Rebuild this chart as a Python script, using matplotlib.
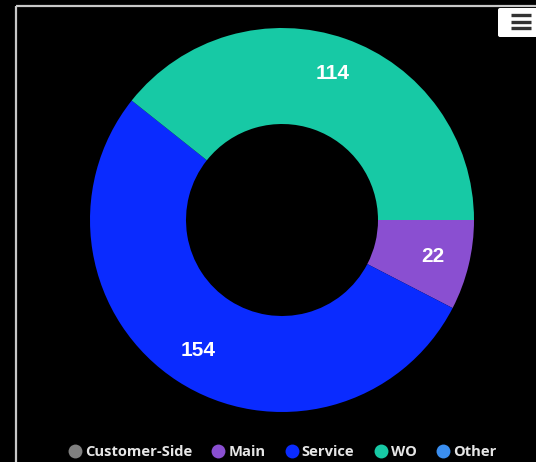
import matplotlib
matplotlib.use("Agg")
import matplotlib.pyplot as plt
from matplotlib.lines import Line2D
from matplotlib.patches import FancyBboxPatch
import numpy as np

categories = ["Customer-Side", "Main", "Service", "WO", "Other"]
values = [0, 22, 154, 114, 0]
colors = ["#808080", "#8a4fd1", "#0a2bff", "#17c9a5", "#3a8ef0"]

W, H = 536, 462
fig = plt.figure(figsize=(W / 100, H / 100), dpi=100, facecolor="black")
ax = fig.add_axes([0, 0, 1, 1])
ax.set_facecolor("black")

cx, cy = 282, H - 220
r_out, ring = 192, 96

wedges, _ = ax.pie(values, colors=colors, radius=r_out, center=(cx, cy),
                   startangle=0, counterclock=False,
                   wedgeprops=dict(width=ring, linewidth=0))
ax.set_xlim(0, W)
ax.set_ylim(0, H)
ax.set_aspect("equal")
ax.axis("off")

# value labels inside the ring
total = sum(values)
label_r = 155
start = 0.0
for v in values:
    if v > 0:
        mid = start - v / total * 360 / 2
        a = np.deg2rad(mid)
        ax.text(cx + label_r * np.cos(a), cy + label_r * np.sin(a), str(v),
                ha="center", va="center", color="white", fontsize=15,
                fontweight="bold", family="Liberation Sans")
    start -= v / total * 360

# frame lines
ax.plot([15.5, 15.5], [0, H - 5.5], color="#c8c8c8", lw=1.6, solid_capstyle="butt")
ax.plot([15.5, W], [H - 5.5, H - 5.5], color="#c8c8c8", lw=1.6, solid_capstyle="butt")

# export menu button
btn = FancyBboxPatch((498, H - 37), 40, 29, boxstyle="round,pad=0,rounding_size=2",
                     facecolor="white", edgecolor="none")
ax.add_patch(btn)
for yy in (15, 21.5, 28):
    ax.plot([511, 531], [H - yy, H - yy], color="#333333", lw=2.4, solid_capstyle="butt")

handles = [Line2D([0], [0], marker="o", linestyle="none", markersize=10,
                  markerfacecolor=c, markeredgecolor="none") for c in colors]
leg = fig.legend(handles, categories, loc="center", bbox_to_anchor=(283 / W, 1 - 452 / H),
                 ncol=5, frameon=False, handlelength=0.7, handletextpad=0.32,
                 columnspacing=1.45, borderpad=0,
                 prop=dict(family="Open Sans", weight="bold", size=10.6))
for t in leg.get_texts():
    t.set_color("#e6e6e6")

fig.savefig("out.png", dpi=100, facecolor="black")
